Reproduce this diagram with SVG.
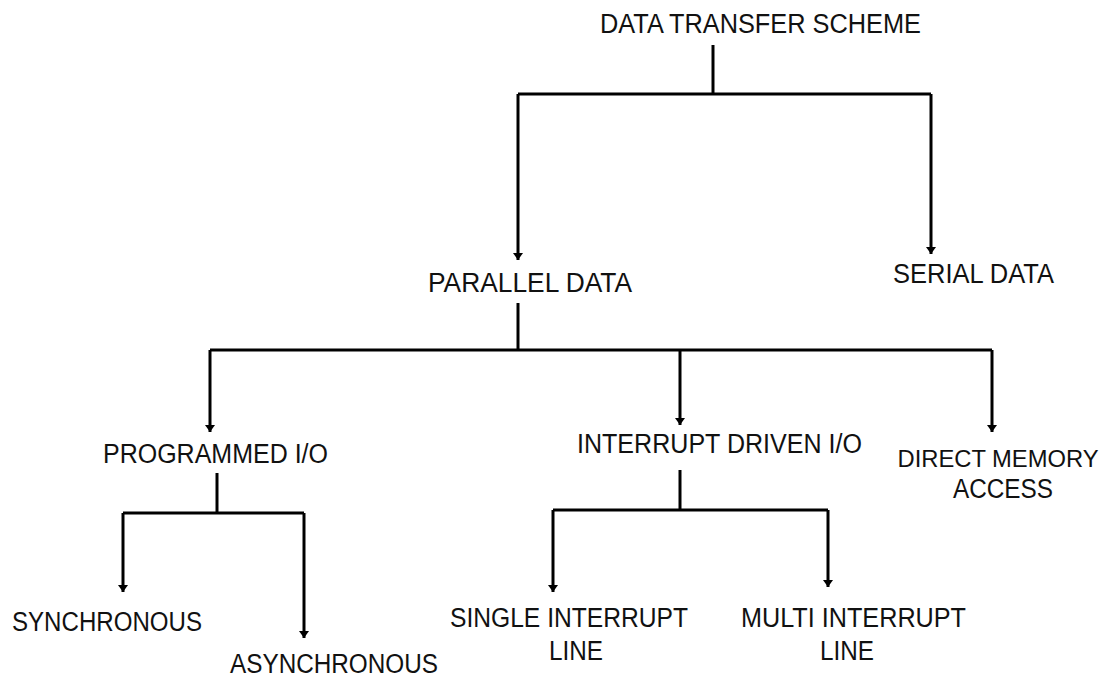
<svg xmlns="http://www.w3.org/2000/svg" width="1109" height="677" viewBox="0 0 1109 677">
<style>
.t{font-family:"Liberation Sans",Arial,sans-serif;font-size:27px;fill:#111}
.c{fill:none;stroke:#000;stroke-width:3;stroke-linejoin:miter;stroke-linecap:butt}
</style>
<defs>
<marker id="ah" markerUnits="userSpaceOnUse" markerWidth="12" markerHeight="10" refX="6" refY="8" orient="0" viewBox="0 0 12 10">
<path d="M1,1 L11,1 L6,8 Z" fill="#000"/>
</marker>
</defs>
<rect width="1109" height="677" fill="#fff"/>
<g id="connectors">
<path class="c" d="M713,45 V94"/>
<path class="c" d="M518,94 H931"/>
<path class="c" d="M518,94 V260" marker-end="url(#ah)"/>
<path class="c" d="M931,94 V254" marker-end="url(#ah)"/>
<path class="c" d="M518,303 V350"/>
<path class="c" d="M210,350 H992"/>
<path class="c" d="M210,350 V432" marker-end="url(#ah)"/>
<path class="c" d="M680,350 V425" marker-end="url(#ah)"/>
<path class="c" d="M992,350 V432" marker-end="url(#ah)"/>
<path class="c" d="M217,473 V513"/>
<path class="c" d="M123,513 H304"/>
<path class="c" d="M123,513 V592" marker-end="url(#ah)"/>
<path class="c" d="M304,513 V638" marker-end="url(#ah)"/>
<path class="c" d="M680,470 V510"/>
<path class="c" d="M553,510 H828"/>
<path class="c" d="M553,510 V592" marker-end="url(#ah)"/>
<path class="c" d="M828,510 V587" marker-end="url(#ah)"/>
</g>
<g id="n-root"><text class="t" x="600" y="33" textLength="321" lengthAdjust="spacingAndGlyphs">DATA TRANSFER SCHEME</text></g>
<g id="n-parallel"><text class="t" x="428" y="292" textLength="204" lengthAdjust="spacingAndGlyphs">PARALLEL DATA</text></g>
<g id="n-serial"><text class="t" x="893" y="283" textLength="161" lengthAdjust="spacingAndGlyphs">SERIAL DATA</text></g>
<g id="n-programmed"><text class="t" x="103" y="463" textLength="225" lengthAdjust="spacingAndGlyphs">PROGRAMMED I/O</text></g>
<g id="n-interrupt"><text class="t" x="577" y="453" textLength="285" lengthAdjust="spacingAndGlyphs">INTERRUPT DRIVEN I/O</text></g>
<g id="n-dma"><text class="t" x="998" y="467" text-anchor="middle" style="font-size:24.5px" textLength="201" lengthAdjust="spacingAndGlyphs">DIRECT MEMORY</text><text class="t" x="1003" y="498" text-anchor="middle" textLength="100" lengthAdjust="spacingAndGlyphs">ACCESS</text></g>
<g id="n-sync"><text class="t" x="12" y="631" textLength="190" lengthAdjust="spacingAndGlyphs">SYNCHRONOUS</text></g>
<g id="n-async"><text class="t" x="230" y="673" textLength="208" lengthAdjust="spacingAndGlyphs">ASYNCHRONOUS</text></g>
<g id="n-single"><text class="t" x="450" y="627" textLength="238" lengthAdjust="spacingAndGlyphs">SINGLE INTERRUPT</text><text class="t" x="549" y="660" textLength="54" lengthAdjust="spacingAndGlyphs">LINE</text></g>
<g id="n-multi"><text class="t" x="741" y="627" textLength="225" lengthAdjust="spacingAndGlyphs">MULTI INTERRUPT</text><text class="t" x="820" y="660" textLength="54" lengthAdjust="spacingAndGlyphs">LINE</text></g>
</svg>
